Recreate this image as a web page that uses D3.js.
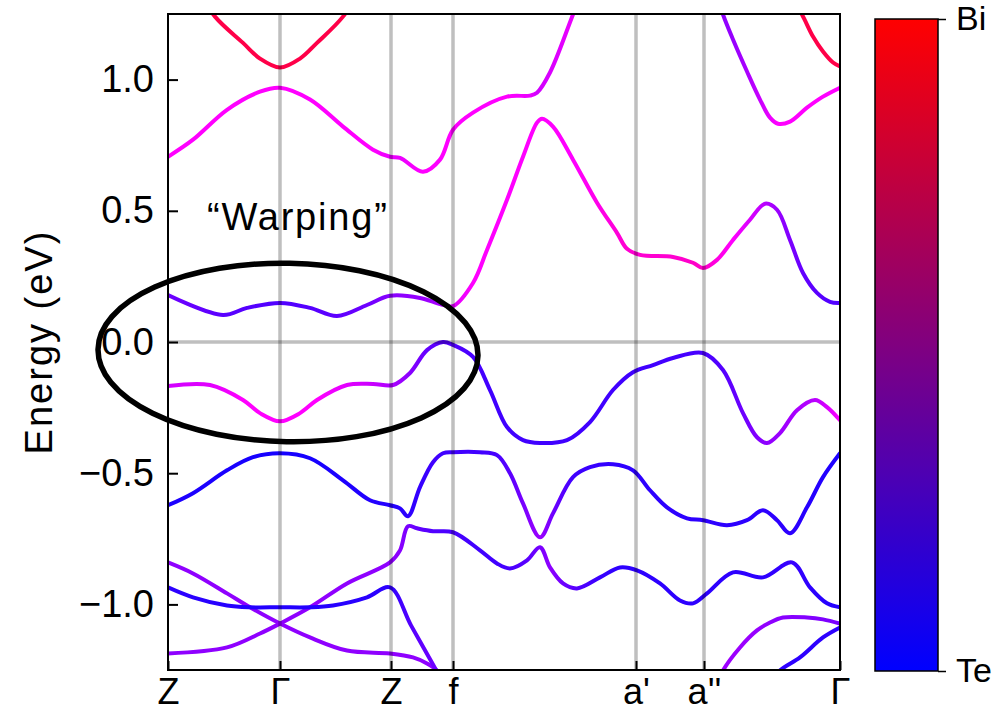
<!DOCTYPE html>
<html>
<head>
<meta charset="utf-8">
<script src="https://cdn.jsdelivr.net/npm/d3@7"></script>
<style>
  body { margin: 0; background: #fff; }
  svg { display: block; }
  text { font-family: "Liberation Sans", Arial, Helvetica, sans-serif; fill: #000; }
</style>
</head>
<body>
<svg id="chart" width="1008" height="712"></svg>
<script>
// High-symmetry points along the k-path (path coordinate, arbitrary units)
const kLabels = ["Z", "Γ", "Z", "f", "a'", "a''", "Γ"];
const kTicks = [0, 0.56, 1.115, 1.425, 2.34, 2.68, 3.36];
const energyTicks = [-1, -0.5, 0, 0.5, 1];
const colorbarLabels = ["Te", "Bi"];

// Bands: [k, energy (eV), Bi weight 0..1]
const band1 = [[0.135,1.36,0.78],[0.235,1.24,0.78],[0.375,1.14,0.78],[0.46,1.08,0.78],[0.56,1.046,0.78],
  [0.66,1.08,0.78],[0.745,1.14,0.78],[0.875,1.24,0.78],[0.975,1.36,0.78]];

const band2 = [[3.11,1.324,0.78],[3.17,1.248,0.78],[3.225,1.164,0.78],[3.275,1.107,0.78],[3.325,1.065,0.78],[3.36,1.05,0.78]];

const band3 = [[0,0.706,0.5],[0.125,0.771,0.5],[0.295,0.885,0.5],[0.46,0.954,0.5],[0.56,0.969,0.5],[0.71,0.924,0.5],
  [0.875,0.821,0.5],[1.025,0.733,0.5],[1.11,0.706,0.48],[1.16,0.702,0.48],[1.275,0.649,0.5],[1.36,0.695,0.5],
  [1.425,0.809,0.5],[1.525,0.874,0.5],[1.695,0.935,0.5],[1.81,0.939,0.48],[1.845,0.95,0.45],[1.91,1.027,0.46],
  [2.025,1.248,0.48],[2.085,1.363,0.48],[2.36,1.5,0.45],[2.66,1.46,0.4],[2.735,1.344,0.37],[2.775,1.248,0.36],
  [2.825,1.153,0.37],[2.895,1.031,0.4],[2.96,0.924,0.44],[3.01,0.855,0.48],[3.05,0.832,0.5],[3.11,0.84,0.5],
  [3.195,0.893,0.5],[3.275,0.935,0.5],[3.36,0.969,0.5]];

const band4 = [[0,0.179,0.3],[0.275,0.103,0.26],[0.395,0.13,0.25],[0.56,0.149,0.24],[0.71,0.13,0.25],
  [0.845,0.099,0.27],[0.995,0.141,0.3],[1.11,0.176,0.35],[1.26,0.168,0.37],[1.36,0.145,0.4],[1.425,0.137,0.47],
  [1.525,0.225,0.5],[1.595,0.351,0.5],[1.695,0.542,0.5],[1.775,0.706,0.5],[1.845,0.836,0.5],[1.87,0.851,0.5],
  [1.925,0.821,0.5],[2.025,0.695,0.5],[2.145,0.531,0.52],[2.245,0.416,0.54],[2.295,0.355,0.55],[2.36,0.332,0.55],
  [2.525,0.324,0.55],[2.625,0.302,0.56],[2.675,0.282,0.56],[2.745,0.313,0.53],[2.825,0.389,0.5],[2.91,0.466,0.46],
  [2.985,0.527,0.42],[3.045,0.504,0.38],[3.11,0.389,0.33],[3.175,0.263,0.28],[3.245,0.187,0.26],[3.31,0.153,0.24],
  [3.36,0.149,0.24]];

const band5 = [[0,-0.168,0.45],[0.21,-0.164,0.47],[0.375,-0.221,0.5],[0.46,-0.271,0.5],[0.56,-0.302,0.5],
  [0.66,-0.271,0.5],[0.745,-0.221,0.5],[0.895,-0.164,0.47],[1.025,-0.16,0.44],[1.125,-0.164,0.4],[1.21,-0.118,0.35],
  [1.295,-0.031,0.28],[1.375,0,0.25],[1.425,-0.011,0.24],[1.525,-0.057,0.22],[1.61,-0.183,0.2],[1.695,-0.324,0.2],
  [1.775,-0.374,0.2],[1.86,-0.385,0.2],[1.995,-0.374,0.2],[2.11,-0.305,0.2],[2.225,-0.183,0.2],[2.325,-0.115,0.2],
  [2.425,-0.088,0.2],[2.525,-0.061,0.21],[2.675,-0.042,0.22],[2.775,-0.107,0.25],[2.875,-0.271,0.3],
  [2.945,-0.363,0.34],[2.995,-0.385,0.36],[3.06,-0.347,0.38],[3.145,-0.26,0.4],[3.235,-0.221,0.42],
  [3.295,-0.248,0.46],[3.36,-0.298,0.5]];

const band6 = [[0,-0.622,0.1],[0.125,-0.576,0.1],[0.295,-0.489,0.09],[0.425,-0.439,0.08],[0.56,-0.424,0.08],
  [0.71,-0.443,0.08],[0.875,-0.527,0.1],[1.01,-0.603,0.12],[1.11,-0.622,0.12],[1.16,-0.634,0.13],[1.2,-0.664,0.15],
  [1.26,-0.553,0.17],[1.325,-0.458,0.2],[1.375,-0.424,0.2],[1.425,-0.42,0.2],[1.56,-0.42,0.2],[1.645,-0.431,0.22],
  [1.71,-0.5,0.26],[1.775,-0.615,0.32],[1.86,-0.744,0.38],[1.925,-0.653,0.3],[2.025,-0.515,0.2],[2.11,-0.477,0.18],
  [2.225,-0.466,0.16],[2.325,-0.489,0.15],[2.41,-0.565,0.15],[2.495,-0.63,0.15],[2.595,-0.672,0.15],
  [2.675,-0.679,0.15],[2.795,-0.698,0.15],[2.895,-0.679,0.15],[2.975,-0.641,0.15],[3.045,-0.679,0.15],
  [3.11,-0.729,0.15],[3.195,-0.63,0.13],[3.275,-0.515,0.12],[3.36,-0.424,0.1]];

const band7 = [[0,-1.187,0.36],[0.295,-1.164,0.36],[0.46,-1.111,0.36],[0.56,-1.073,0.36],[0.71,-1.011,0.36],
  [0.895,-0.92,0.36],[1.11,-0.84,0.36],[1.16,-0.794,0.35],[1.2,-0.702,0.32],[1.245,-0.71,0.28],[1.325,-0.721,0.24],
  [1.425,-0.725,0.22],[1.56,-0.794,0.2],[1.645,-0.844,0.2],[1.71,-0.863,0.22],[1.795,-0.832,0.26],[1.86,-0.782,0.32],
  [1.91,-0.859,0.36],[1.975,-0.92,0.3],[2.045,-0.939,0.25],[2.16,-0.897,0.18],[2.26,-0.859,0.15],[2.345,-0.87,0.15],
  [2.46,-0.92,0.15],[2.56,-0.985,0.15],[2.625,-0.996,0.15],[2.695,-0.958,0.15],[2.825,-0.878,0.15],
  [2.975,-0.897,0.15],[3.12,-0.84,0.18],[3.21,-0.935,0.15],[3.295,-0.996,0.13],[3.36,-1.011,0.12]];

const band8 = [[0,-0.84,0.36],[0.125,-0.882,0.36],[0.295,-0.958,0.36],[0.41,-1.011,0.36],[0.56,-1.073,0.36],
  [0.71,-1.126,0.36],[0.895,-1.176,0.36],[1.11,-1.187,0.36],[1.225,-1.202,0.36],[1.295,-1.225,0.36],
  [1.345,-1.252,0.36],[1.41,-1.328,0.36]];

const band9 = [[0,-0.935,0.15],[0.125,-0.973,0.14],[0.295,-1.004,0.13],[0.41,-1.011,0.12],[0.56,-1.011,0.12],
  [0.71,-1.011,0.12],[0.825,-1.004,0.13],[0.995,-0.973,0.14],[1.11,-0.935,0.15],[1.215,-1.08,0.25],
  [1.325,-1.229,0.3],[1.385,-1.313,0.3]];

const band10 = [[2.735,-1.328,0.38],[2.775,-1.252,0.38],[2.86,-1.164,0.38],[2.945,-1.099,0.37],[3.01,-1.069,0.36],
  [3.075,-1.05,0.35],[3.195,-1.05,0.34],[3.275,-1.057,0.33],[3.36,-1.073,0.32]];

const band11 = [[3.01,-1.309,0.15],[3.06,-1.252,0.15],[3.16,-1.202,0.15],[3.275,-1.126,0.15],[3.36,-1.088,0.15]];

const bands = [band1, band2, band3, band4, band5, band6, band7, band8, band9, band10, band11];

// Annotation: ellipse around the warping region and its caption
const warpCenter = [0.6, -0.04];
const warpRadii = [0.95, 0.34];
const warpCaption = { text: "“Warping”", k: 0.195, e: 0.427 };

// ---------------------------------------------------------------
const svg = d3.select("#chart");
const plotLeft = 168, plotRight = 840, plotTop = 14, plotBottom = 670;

const x = d3.scaleLinear().domain([kTicks[0], kTicks[kTicks.length - 1]]).range([plotLeft, plotRight]);
const y = d3.scaleLinear().domain([-1.25, 1.25]).range([plotBottom, plotTop]);

// Band colour: Te (blue) -> Bi (red), brightest channel normalised to full
function bandColor(w) {
  const m = Math.max(w, 1 - w);
  return d3.rgb(255 * w / m, 0, 255 * (1 - w) / m).formatHex();
}

const defs = svg.append("defs");
defs.append("clipPath").attr("id", "plotClip")
  .append("rect").attr("x", plotLeft).attr("y", plotTop)
  .attr("width", plotRight - plotLeft).attr("height", plotBottom - plotTop);

const plot = svg.append("g").attr("clip-path", "url(#plotClip)");

const line = d3.line()
  .x(d => x(d[0]))
  .y(d => y(d[1]))
  .curve(d3.curveCatmullRom.alpha(0.5));

bands.forEach((b, i) => {
  const x0 = x(b[0][0]), x1 = x(b[b.length - 1][0]);
  const grad = defs.append("linearGradient")
    .attr("id", "bandGrad" + i)
    .attr("gradientUnits", "userSpaceOnUse")
    .attr("x1", x0).attr("x2", x1).attr("y1", 0).attr("y2", 0);
  b.forEach(p => grad.append("stop")
    .attr("offset", (x(p[0]) - x0) / (x1 - x0))
    .attr("stop-color", bandColor(p[2])));
  plot.append("path")
    .attr("d", line(b))
    .attr("fill", "none")
    .attr("stroke", `url(#bandGrad${i})`)
    .attr("stroke-width", 4)
    .attr("stroke-linecap", "round")
    .attr("stroke-linejoin", "round");
});

// Guide lines at the high-symmetry points and at the Fermi level
const guide = "rgba(0,0,0,0.25)";
plot.selectAll("line.kline")
  .data(kTicks.slice(1, -1))
  .join("line")
  .attr("class", "kline")
  .attr("x1", d => x(d)).attr("x2", d => x(d))
  .attr("y1", plotTop).attr("y2", plotBottom)
  .attr("stroke", guide).attr("stroke-width", 3.5);
plot.append("line")
  .attr("x1", plotLeft).attr("x2", plotRight)
  .attr("y1", y(0)).attr("y2", y(0))
  .attr("stroke", guide).attr("stroke-width", 3.5);

// Frame
svg.append("rect")
  .attr("x", plotLeft).attr("y", plotTop)
  .attr("width", plotRight - plotLeft).attr("height", plotBottom - plotTop)
  .attr("fill", "none").attr("stroke", "#000").attr("stroke-width", 2);

// Axes (ticks pointing inward)
const yAxis = d3.axisLeft(y)
  .tickValues(energyTicks)
  .tickFormat(d3.format(".1f"))
  .tickSizeInner(-10).tickSizeOuter(0).tickPadding(14);
const yG = svg.append("g").attr("transform", `translate(${plotLeft},0)`).call(yAxis);
yG.select(".domain").remove();
yG.selectAll(".tick line").attr("stroke", "#000").attr("stroke-width", 2);
yG.selectAll(".tick text").attr("font-size", 38).attr("font-family", "Liberation Sans, Arial, sans-serif").attr("fill", "#000");

const xAxis = d3.axisBottom(x)
  .tickValues(kTicks)
  .tickFormat((d, i) => kLabels[i])
  .tickSizeInner(-9).tickSizeOuter(0).tickPadding(8);
const xG = svg.append("g").attr("transform", `translate(0,${plotBottom})`).call(xAxis);
xG.select(".domain").remove();
xG.selectAll(".tick line").attr("stroke", "#000").attr("stroke-width", 2);
xG.selectAll(".tick text").attr("font-size", 36).attr("font-family", "Liberation Sans, Arial, sans-serif").attr("fill", "#000");

svg.append("text")
  .attr("transform", `translate(52,${(plotTop + plotBottom) / 2}) rotate(-90)`)
  .attr("text-anchor", "middle")
  .attr("font-size", 38)
  .attr("letter-spacing", 2)
  .text("Energy (eV)");

// Warping annotation
const ecx = x(warpCenter[0]), ecy = y(warpCenter[1]);
svg.append("ellipse")
  .attr("cx", ecx).attr("cy", ecy)
  .attr("rx", x(warpCenter[0] + warpRadii[0]) - ecx)
  .attr("ry", ecy - y(warpCenter[1] + warpRadii[1]))
  .attr("transform", `rotate(1,${ecx},${ecy})`)
  .attr("fill", "none").attr("stroke", "#000").attr("stroke-width", 5.5);
svg.append("text")
  .attr("x", x(warpCaption.k)).attr("y", y(warpCaption.e))
  .attr("font-size", 38)
  .attr("letter-spacing", 1.8)
  .text(warpCaption.text);

// Colour bar Te -> Bi
const cbLeft = 875, cbRight = 938, cbTop = 19, cbBottom = 671;
const cbScale = d3.scaleLinear().domain([0, 1]).range([cbBottom, cbTop]);
const cbGrad = defs.append("linearGradient").attr("id", "cbGrad")
  .attr("x1", 0).attr("x2", 0).attr("y1", 1).attr("y2", 0);
d3.range(0, 1.0001, 0.1).forEach(t => cbGrad.append("stop")
  .attr("offset", t).attr("stop-color", d3.interpolateRgb("blue", "red")(t)));
svg.append("rect")
  .attr("x", cbLeft).attr("y", cbTop)
  .attr("width", cbRight - cbLeft).attr("height", cbBottom - cbTop)
  .attr("fill", "url(#cbGrad)").attr("stroke", "#000").attr("stroke-width", 1.5);
const cbAxis = d3.axisRight(cbScale)
  .tickValues([0, 1])
  .tickFormat((d, i) => colorbarLabels[i])
  .tickSizeInner(8).tickSizeOuter(0).tickPadding(10);
const cbG = svg.append("g").attr("transform", `translate(${cbRight},0)`).call(cbAxis);
cbG.select(".domain").remove();
cbG.selectAll(".tick line").attr("stroke", "#000").attr("stroke-width", 1.5);
cbG.selectAll(".tick text").attr("font-size", 34).attr("font-family", "Liberation Sans, Arial, sans-serif").attr("fill", "#000");
</script>
</body>
</html>
